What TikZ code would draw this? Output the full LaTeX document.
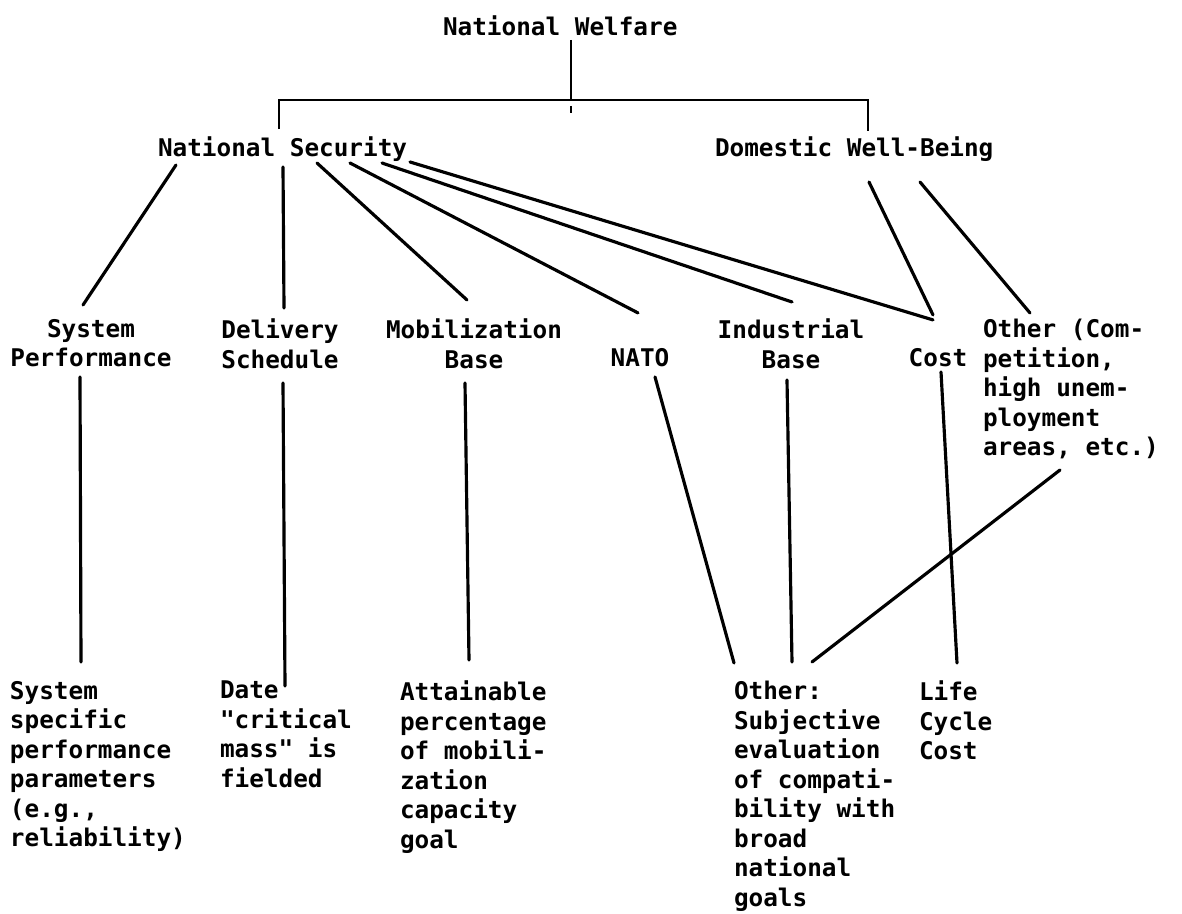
\documentclass[tikz,border=0pt]{standalone}
\usepackage{fontspec}
\newfontfamily\typewriter{DejaVu Sans Mono}
\usepackage{tikz}

\begin{document}
\begin{tikzpicture}[
  x=0.2mm,y=-0.2mm,
  font=\typewriter\bfseries\fontsize{13.85}{16.8}\selectfont\frenchspacing,
  entry/.style={inner sep=0pt,outer sep=0pt},
  branch/.style={line width=1.8pt,line cap=round},
  bar/.style={line width=1.2pt}
]
  \useasboundingbox (0,0) rectangle (1182,914);

  % Objetivo principal y sus dos ramas
  \node[entry,anchor=base west] (welfare) at (443,36) {National Welfare};
  \node[entry,anchor=base west] (security) at (158,157) {National Security};
  \node[entry,anchor=base west] (domestic) at (715,157) {Domestic Well-Being};

  \draw[bar] ([shift={(128,4)}]welfare.base west) -- ++(0,61);
  \draw[bar] ([shift={(128,70)}]welfare.base west) -- ++(0,7);
  \draw[bar] ([shift={(121,-8)}]security.north west) -- ++(0,-29)
    -| ([shift={(153,-6)}]domestic.north west);

  % Criterios intermedios
  \node[entry,anchor=north,align=center] (perf) at (91,319) {System\\Performance};
  \node[entry,anchor=north,align=center] (sched) at (280,319) {Delivery\\Schedule};
  \node[entry,anchor=north,align=center] (mobil) at (474,319) {Mobilization\\Base};
  \node[entry,anchor=base] (nato) at (640,367) {NATO};
  \node[entry,anchor=north,align=center] (indus) at (791,319) {Industrial\\Base};
  \node[entry,anchor=base] (cost) at (938,367) {Cost};
  \node[entry,anchor=north west,align=left] (other) at (983,319)
    {Other (Com-\\petition,\\high unem-\\ployment\\areas, etc.)};

  \draw[branch] ([shift={(18,8)}]security.base west) -- ([shift={(-8,-14)}]perf.north);
  \draw[branch] ([shift={(125,10)}]security.base west) -- ([shift={(4,-11)}]sched.north);
  \draw[branch] ([shift={(159,6)}]security.base west) -- ([shift={(-7,-19)}]mobil.north);
  \draw[branch] ([shift={(192,6)}]security.base west) -- ([shift={(-2,-36)}]nato.north);
  \draw[branch] ([shift={(224,6)}]security.base west) -- ([shift={(1,-17)}]indus.north);
  \draw[branch] ([shift={(252,5)}]security.base west) -- ([shift={(-5,-29)}]cost.north);
  \draw[branch] ([shift={(154,25)}]domestic.base west) -- ([shift={(-5,-34)}]cost.north);
  \draw[branch] ([shift={(205,25)}]domestic.base west) -- ([shift={(47,-6)}]other.north west);

  % Medidas concretas
  \node[entry,anchor=north west,align=left] (perfmeas) at (10,681)
    {System\\specific\\performance\\parameters\\(e.g.,\\reliability)};
  \node[entry,anchor=north west,align=left] (schedmeas) at (220,681)
    {Date\\"critical\\mass" is\\fielded};
  \node[entry,anchor=north west,align=left] (mobilmeas) at (400,681)
    {Attainable\\percentage\\of mobili-\\zation\\capacity\\goal};
  \node[entry,anchor=north west,align=left] (othermeas) at (734,681)
    {Other:\\Subjective\\evaluation\\of compati-\\bility with\\broad\\national\\goals};
  \node[entry,anchor=north west,align=left] (costmeas) at (919,681)
    {Life\\Cycle\\Cost};

  \draw[branch] ([shift={(-11,58)}]perf.north) -- ([shift={(71,-19)}]perfmeas.north west);
  \draw[branch] ([shift={(3,64)}]sched.north) -- ([shift={(65,5)}]schedmeas.north west);
  \draw[branch] ([shift={(-9,64)}]mobil.north) -- ([shift={(69,-21)}]mobilmeas.north west);
  \draw[branch] ([shift={(15,28)}]nato.north) -- ([shift={(0,-18)}]othermeas.north west);
  \draw[branch] ([shift={(-4,61)}]indus.north) -- ([shift={(58,-19)}]othermeas.north west);
  \draw[branch] ([shift={(3,23)}]cost.north) -- ([shift={(38,-18)}]costmeas.north west);
  \draw[branch] ([shift={(77,151)}]other.north west) -- ([shift={(78,-19)}]othermeas.north west);
\end{tikzpicture}
\end{document}
